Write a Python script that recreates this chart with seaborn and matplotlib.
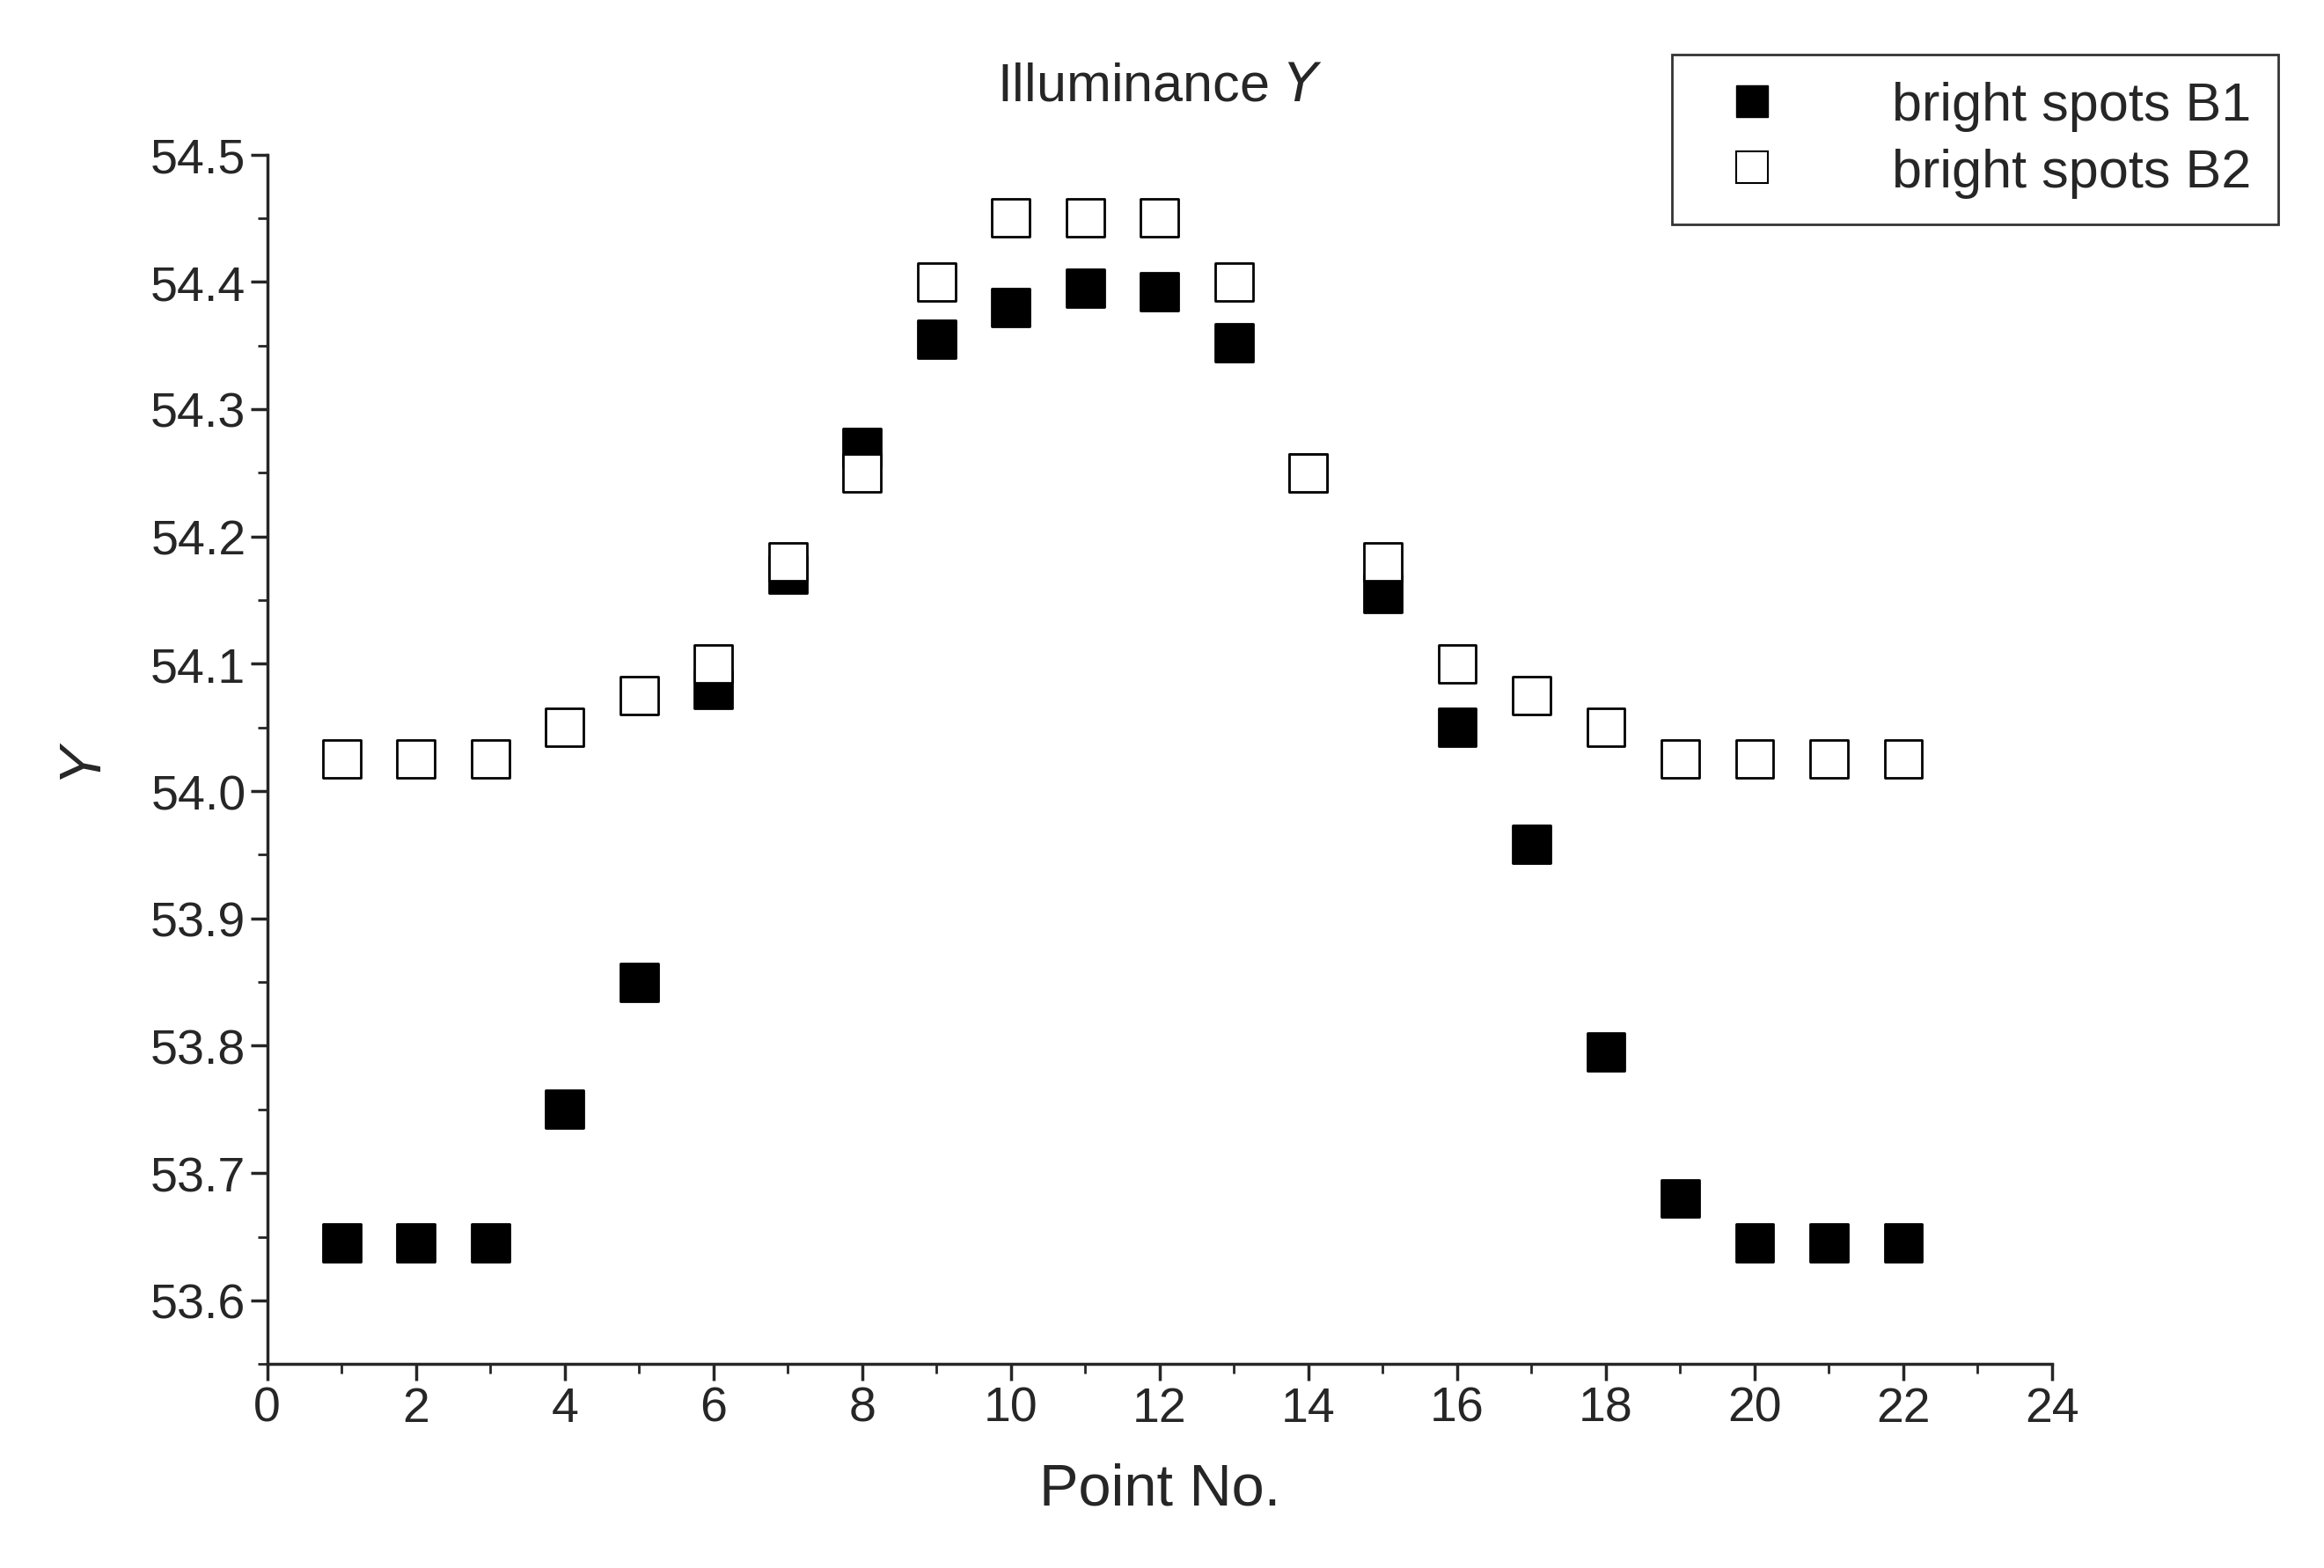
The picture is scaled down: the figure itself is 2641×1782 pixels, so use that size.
import numpy as np
import pandas as pd
import matplotlib
matplotlib.use('Agg')
import matplotlib.pyplot as plt
import seaborn as sns
from matplotlib.ticker import MultipleLocator
from matplotlib.lines import Line2D

point_no = list(range(1, 23))
b1 = [53.645, 53.645, 53.645, 53.75, 53.85, 54.08, 54.17, 54.27, 54.355, 54.38, 54.395,
      54.392, 54.352, 54.25, 54.155, 54.05, 53.958, 53.795, 53.68, 53.645, 53.645, 53.645]
b2 = [54.025, 54.025, 54.025, 54.05, 54.075, 54.1, 54.18, 54.25, 54.4, 54.45, 54.45,
      54.45, 54.4, 54.25, 54.18, 54.1, 54.075, 54.05, 54.025, 54.025, 54.025, 54.025]

df = pd.DataFrame({
    'Point No.': point_no * 2,
    'Y': b1 + b2,
    'series': ['bright spots B1'] * 22 + ['bright spots B2'] * 22,
})

sns.set_style('ticks')
plt.rcParams['font.family'] = ['Liberation Sans', 'DejaVu Sans']

fig = plt.figure(figsize=(26.41, 17.83), dpi=100)
ax = fig.add_axes([0.115, 0.130, 0.768, 0.771])

sns.scatterplot(data=df, x='Point No.', y='Y', hue='series', style='series',
                palette={'bright spots B1': 'black', 'bright spots B2': 'white'},
                markers={'bright spots B1': 's', 'bright spots B2': 's'},
                edgecolor='black', linewidth=2, s=950, ax=ax, legend=False)

ax.set_xlim(0, 24)
ax.set_ylim(53.55, 54.5)
ax.xaxis.set_major_locator(MultipleLocator(2))
ax.xaxis.set_minor_locator(MultipleLocator(1))
ax.yaxis.set_minor_locator(MultipleLocator(0.05))
ticks = np.arange(53.6, 54.51, 0.1)
ax.set_yticks(ticks)
ax.set_yticklabels([f'{v:.1f}' for v in ticks])
ax.tick_params(which='major', length=14, width=2.5, labelsize=40)
ax.tick_params(which='minor', length=8, width=2)
for s in ['left', 'bottom']:
    ax.spines[s].set_linewidth(2.5)
sns.despine(ax=ax)

ax.set_xlabel('Point No.', fontsize=48, labelpad=25)
ax.set_ylabel('Y', fontsize=48, style='italic', labelpad=35)
ax.set_title('Illuminance $Y$', fontsize=44, pad=45)

handles = [
    Line2D([], [], marker='s', ls='', markersize=26, markerfacecolor='black', markeredgecolor='black'),
    Line2D([], [], marker='s', ls='', markersize=26, markerfacecolor='white', markeredgecolor='black', markeredgewidth=1.5),
]
leg = fig.legend(handles, ['bright spots B1', 'bright spots B2'], loc='upper right',
                 bbox_to_anchor=(0.992, 0.982), fontsize=44, frameon=True, fancybox=False,
                 edgecolor='black', handletextpad=1.6, borderpad=0.5, labelspacing=0.3)
leg.get_frame().set_linewidth(2)

fig.savefig('out.png', dpi=100)
